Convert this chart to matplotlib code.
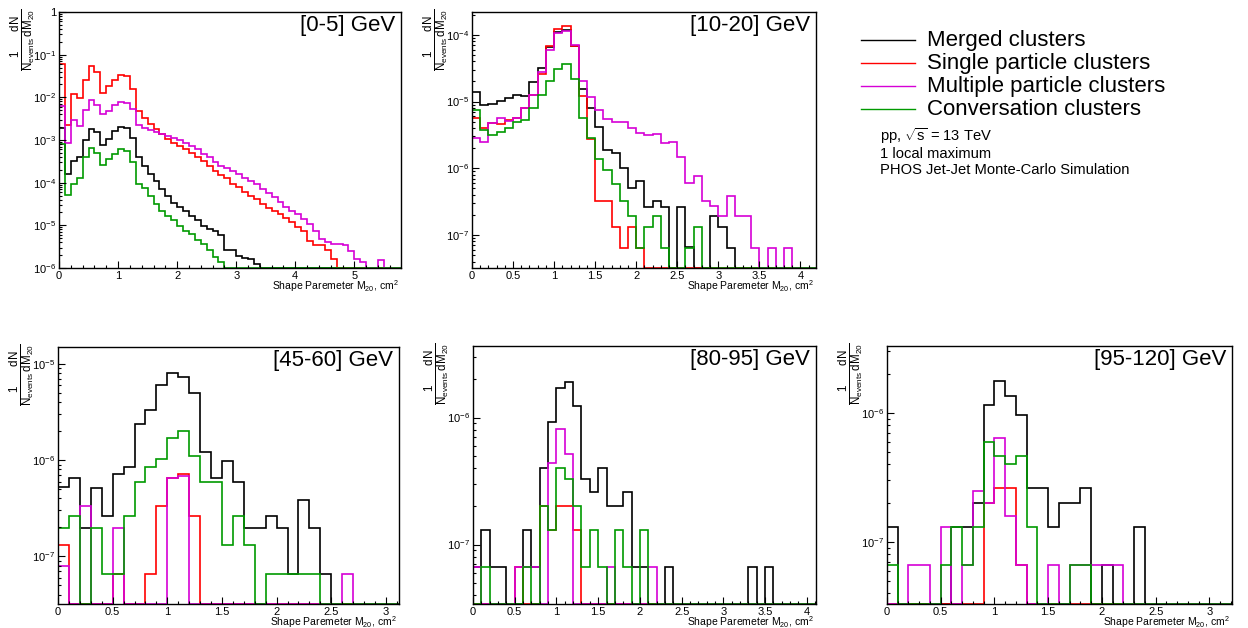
import numpy as np
import matplotlib
matplotlib.use("Agg")
import matplotlib.pyplot as plt
from matplotlib import ticker
from matplotlib.lines import Line2D
from matplotlib.transforms import offset_copy

plt.rcParams['font.family'] = ['Liberation Sans', 'DejaVu Sans']
plt.rcParams['mathtext.fontset'] = 'custom'
plt.rcParams['mathtext.rm'] = 'Liberation Sans'
plt.rcParams['mathtext.it'] = 'Liberation Sans:italic'
plt.rcParams['mathtext.bf'] = 'Liberation Sans:bold'
plt.rcParams['mathtext.sf'] = 'Liberation Sans'
plt.rcParams['mathtext.default'] = 'regular'

W, H = 1248, 628
BIN_WIDTH = 0.1  # cm^2

labels = ["Merged clusters", "Single particle clusters",
          "Multiple particle clusters", "Conversation clusters"]
colors = ["#000000", "#ff0000", "#d600d6", "#009a00"]

# [0-5] GeV
p1_merged = [1.9e-3, 1.6e-4, 3.2e-4, 3.9e-4, 9.8e-4, 1.8e-3, 1.5e-3, 7.6e-4, 1.04e-3, 1.6e-3,
             2.0e-3, 1.9e-3, 1.12e-3, 4.1e-4, 2.5e-4, 1.6e-4, 1.1e-4, 7.1e-5, 4.8e-5, 3.4e-5,
             2.7e-5, 2.2e-5, 1.7e-5, 1.33e-5, 9.8e-6, 8.1e-6, 7.5e-6, 5.9e-6, 2.6e-6, 2.6e-6,
             1.9e-6, 1.7e-6, 1.6e-6, 1.26e-6]
p1_single = [0.060, 2.3e-3, 1.17e-2, 9.4e-3, 2.6e-2, 5.5e-2, 3.9e-2, 1.28e-2, 1.8e-2, 2.6e-2,
             3.4e-2, 3.1e-2, 1.6e-2, 4.8e-3, 3.3e-3, 2.4e-3, 1.8e-3, 1.35e-3, 1.04e-3, 8.7e-4,
             7.3e-4, 6.3e-4, 5.0e-4, 4.1e-4, 3.2e-4, 2.5e-4, 1.9e-4, 1.5e-4, 1.26e-4, 9.3e-5,
             7.8e-5, 5.9e-5, 4.9e-5, 4.1e-5, 3.1e-5, 2.6e-5, 2.2e-5, 1.8e-5, 1.5e-5, 1.2e-5,
             9.3e-6, 7.3e-6, 4.4e-6, 3.4e-6, 3.5e-6, 2.6e-6, 1.6e-6]
p1_multiple = [6.2e-3, 8.5e-4, 3.0e-3, 2.1e-3, 5.0e-3, 8.5e-3, 6.5e-3, 4.0e-3, 4.9e-3, 6.5e-3,
               7.9e-3, 7.5e-3, 5.2e-3, 2.3e-3, 1.9e-3, 1.7e-3, 1.55e-3, 1.35e-3, 1.23e-3, 1.12e-3,
               9.8e-4, 8.7e-4, 7.3e-4, 6.0e-4, 4.8e-4, 3.9e-4, 3.0e-4, 2.5e-4, 2.2e-4, 1.9e-4,
               1.6e-4, 1.3e-4, 1.1e-4, 9.1e-5, 7.1e-5, 5.6e-5, 4.5e-5, 3.6e-5, 2.7e-5, 2.2e-5,
               1.8e-5, 1.4e-5, 1.07e-5, 7.5e-6, 4.8e-6, 4.1e-6, 3.6e-6, 3.7e-6, 3.4e-6, 2.5e-6,
               1.6e-6, 1.4e-6, 0, 0, 1.5e-6]
p1_conversion = [7.9e-4, 5.1e-5, 9.5e-5, 1.3e-4, 3.9e-4, 6.6e-4, 5.0e-4, 2.6e-4, 3.5e-4, 4.8e-4,
                 6.0e-4, 5.5e-4, 3.1e-4, 9.5e-5, 7.3e-5, 4.9e-5, 3.2e-5, 2.2e-5, 1.7e-5, 1.33e-5,
                 9.8e-6, 7.5e-6, 6.3e-6, 4.6e-6, 3.6e-6, 2.6e-6, 1.8e-6, 1.4e-6]

# [10-20] GeV
p2_merged = [1.4e-5, 8.9e-6, 9.2e-6, 1.03e-5, 1.12e-5, 1.26e-5, 1.2e-5, 1.94e-5, 3.2e-5, 6.6e-5,
             1.1e-4, 1.2e-4, 6.8e-5, 1.55e-5, 7.9e-6, 4.2e-6, 1.9e-6, 1.7e-6, 1.0e-6, 5.1e-7,
             6.4e-7, 2.6e-7, 3.2e-7, 2.6e-7, 0, 2.6e-7, 6.7e-8, 0, 0, 1.9e-7,
             1.3e-7, 6.4e-8]
p2_single = [5.6e-6, 4.0e-6, 4.8e-6, 4.6e-6, 5.3e-6, 5.6e-6, 7.9e-6, 1.26e-5, 2.6e-5, 6.8e-5,
             1.24e-4, 1.35e-4, 6.8e-5, 1.2e-5, 2.7e-6, 3.2e-7, 3.2e-7, 1.3e-7, 6.4e-8, 1.3e-7,
             6.4e-8]
p2_multiple = [2.8e-6, 2.5e-6, 4.8e-6, 5.6e-6, 5.1e-6, 5.7e-6, 8.1e-6, 1.26e-5, 2.8e-5, 5.9e-5,
               1.07e-4, 1.15e-4, 7.0e-5, 2.0e-5, 1.16e-5, 7.5e-6, 5.5e-6, 5.0e-6, 4.9e-6, 4.0e-6,
               3.4e-6, 3.2e-6, 3.3e-6, 2.4e-6, 2.5e-6, 1.5e-6, 6.0e-7, 7.6e-7, 3.2e-7, 2.7e-7,
               1.9e-7, 3.8e-7, 1.9e-7, 1.9e-7, 6.4e-8, 0, 6.4e-8, 0, 6.4e-8]
p2_conversion = [7.5e-6, 3.8e-6, 3.2e-6, 3.5e-6, 4.0e-6, 5.0e-6, 5.3e-6, 7.9e-6, 1.26e-5, 2.0e-5,
                 3.1e-5, 3.6e-5, 2.2e-5, 5.6e-6, 2.8e-6, 1.4e-6, 9.5e-7, 5.9e-7, 3.2e-7, 1.9e-7,
                 6.4e-8, 1.3e-7, 1.9e-7, 6.4e-8, 0, 0, 6.4e-8, 1.3e-7]

# [45-60] GeV
p3_merged = [5.2e-7, 6.6e-7, 1.95e-7, 5.1e-7, 2.6e-7, 7.1e-7, 8.5e-7, 2.4e-6, 3.3e-6, 6.0e-6,
             8.0e-6, 7.4e-6, 5.0e-6, 1.22e-6, 6.6e-7, 9.8e-7, 5.9e-7, 1.95e-7, 1.95e-7, 2.6e-7,
             1.95e-7, 6.6e-8, 3.9e-7, 1.95e-7, 6.6e-8]
p3_single = [1.3e-7, 0, 0, 0, 0, 6.6e-8, 0, 0, 6.6e-8, 3.3e-7,
             6.5e-7, 7.1e-7, 2.6e-7]
p3_multiple = [7.9e-8, 0, 3.3e-7, 0, 0, 1.95e-7, 0, 0, 0, 0,
               6.6e-7, 6.8e-7, 0, 0, 0, 0, 0, 0, 0, 0,
               0, 0, 0, 0, 0, 0, 6.6e-8]
p3_conversion = [1.95e-7, 2.6e-7, 0, 1.95e-7, 6.6e-8, 6.6e-8, 2.6e-7, 5.9e-7, 8.5e-7, 1.04e-6,
                 1.7e-6, 2.0e-6, 1.1e-6, 5.9e-7, 5.9e-7, 1.3e-7, 2.6e-7, 1.3e-7, 0, 6.6e-8,
                 6.6e-8, 6.6e-8, 6.6e-8, 6.6e-8]

# [80-95] GeV
p4_merged = [6.7e-8, 1.3e-7, 6.7e-8, 6.7e-8, 0, 0, 1.3e-7, 6.7e-8, 4.0e-7, 9.2e-7,
             1.7e-6, 1.9e-6, 1.23e-6, 3.3e-7, 2.6e-7, 4.0e-7, 2.0e-7, 2.0e-7, 2.6e-7, 6.7e-8,
             6.7e-8, 0, 0, 6.7e-8, 0, 0, 0, 0, 0, 0,
             0, 0, 0, 6.7e-8, 0, 6.7e-8]
p4_single = [0, 0, 0, 0, 0, 6.7e-8, 0, 0, 2.0e-7, 1.3e-7,
             2.0e-7, 2.0e-7, 1.3e-7]
p4_multiple = [6.7e-8, 0, 0, 0, 0, 6.7e-8, 6.7e-8, 6.7e-8, 0, 4.4e-7,
               8.1e-7, 5.2e-7, 0, 0, 0, 0, 6.7e-8, 0, 0, 0,
               0, 6.7e-8]
p4_conversion = [0, 6.7e-8, 0, 0, 0, 0, 6.7e-8, 0, 2.0e-7, 1.3e-7,
                 4.0e-7, 3.3e-7, 2.0e-7, 6.7e-8, 1.3e-7, 6.7e-8, 0, 1.3e-7, 6.7e-8, 0,
                 1.3e-7]

# [95-120] GeV
p5_merged = [1.3e-7, 0, 0, 0, 0, 0, 1.3e-7, 1.3e-7, 2.0e-7, 1.16e-6,
             1.76e-6, 1.36e-6, 9.7e-7, 2.6e-7, 2.6e-7, 1.3e-7, 2.0e-7, 2.0e-7, 2.6e-7, 0,
             6.6e-8, 0, 0, 1.3e-7]
p5_single = [0, 0, 0, 0, 0, 0, 0, 0, 0, 2.0e-7,
             2.6e-7, 2.6e-7, 6.6e-8]
p5_multiple = [0, 0, 6.6e-8, 6.6e-8, 0, 1.3e-7, 0, 6.6e-8, 2.5e-7, 2.0e-7,
               6.4e-7, 1.6e-7, 6.6e-8, 0, 0, 6.6e-8, 0, 6.6e-8, 6.6e-8, 6.6e-8,
               6.6e-8, 6.6e-8]
p5_conversion = [6.6e-8, 0, 0, 0, 0, 6.6e-8, 1.3e-7, 6.6e-8, 1.3e-7, 5.9e-7,
                 4.6e-7, 4.0e-7, 4.6e-7, 1.3e-7, 0, 0, 0, 6.6e-8, 6.6e-8]

titles = ["[0-5] GeV", "[10-20] GeV", "[45-60] GeV", "[80-95] GeV", "[95-120] GeV"]

# frame (left, top, right, bottom) in px, x range, y range, x ticks
panels = [
    dict(rect=(59, 12, 401, 268), data=[p1_merged, p1_single, p1_multiple, p1_conversion],
         xmax=5.79, ylim=(1e-6, 1.0), major=1.0, minor=0.2),
    dict(rect=(472, 12, 816, 268), data=[p2_merged, p2_single, p2_multiple, p2_conversion],
         xmax=4.19, ylim=(3.2e-8, 2.2e-4), major=0.5, minor=0.1),
    dict(rect=(58, 347, 399, 604), data=[p3_merged, p3_single, p3_multiple, p3_conversion],
         xmax=3.12, ylim=(3.2e-8, 1.5e-5), major=0.5, minor=0.1),
    dict(rect=(473, 346, 816, 604), data=[p4_merged, p4_single, p4_multiple, p4_conversion],
         xmax=4.11, ylim=(3.4e-8, 3.66e-6), major=0.5, minor=0.1),
    dict(rect=(887, 346, 1232, 604), data=[p5_merged, p5_single, p5_multiple, p5_conversion],
         xmax=3.21, ylim=(3.3e-8, 3.3e-6), major=0.5, minor=0.1),
]


def log_label(v, pos):
    if abs(v - 1.0) < 1e-12:
        return "1"
    return r"$10^{%d}$" % int(round(np.log10(v)))


fig = plt.figure(figsize=(W / 100, H / 100), dpi=100)
fig.patch.set_facecolor("white")

for title, p in zip(titles, panels):
    l, t, r, b = p["rect"]
    ax = fig.add_axes([l / W, 1 - b / H, (r - l) / W, (b - t) / H])
    ymin, ymax = p["ylim"]
    nbins = int(np.ceil(p["xmax"] / BIN_WIDTH - 1e-9))
    edges = np.arange(nbins + 1) * BIN_WIDTH
    for vals, color in zip(p["data"], colors):
        v = np.zeros(nbins)
        n = min(len(vals), nbins)
        v[:n] = vals[:n]
        v = np.where(v > 0, v, ymin)  # empty bins sit on the frame, ROOT style
        ax.stairs(v, edges, baseline=ymin, color=color, lw=1.2)
    ax.set_yscale("log")
    ax.set_xlim(0, p["xmax"])
    ax.set_ylim(ymin, ymax)

    ax.xaxis.set_major_locator(ticker.MultipleLocator(p["major"]))
    ax.xaxis.set_minor_locator(ticker.MultipleLocator(p["minor"]))
    ax.xaxis.set_major_formatter(ticker.FuncFormatter(lambda v, pos: "%g" % v))
    ax.yaxis.set_major_locator(ticker.LogLocator(base=10, numticks=20))
    ax.yaxis.set_minor_locator(ticker.LogLocator(base=10, subs=np.arange(2, 10) * 1.0, numticks=20))
    ax.yaxis.set_major_formatter(ticker.FuncFormatter(log_label))
    ax.yaxis.set_minor_formatter(ticker.NullFormatter())
    ax.tick_params(which="both", direction="in", top=False, right=False, labelsize=8, width=0.8)
    ax.tick_params(which="major", length=5)
    ax.tick_params(which="minor", length=2.5)
    ax.tick_params(axis="y", pad=2)
    ax.tick_params(axis="x", pad=2)
    for s in ax.spines.values():
        s.set_linewidth(1.0)

    ax.text(1, 1, title, transform=offset_copy(ax.transAxes, fig, x=-6, y=-3, units="dots"),
            ha="right", va="top", fontsize=16)
    ax.text(1, 0, r"Shape Paremeter M$_{20}$, cm$^{2}$",
            transform=offset_copy(ax.transAxes, fig, x=-2, y=-18, units="dots"),
            ha="right", va="center", fontsize=7.5)
    ax.text(0, 1, r"$\frac{1}{N_{events}}\frac{dN}{dM_{20}}$",
            transform=offset_copy(ax.transAxes, fig, x=-36, y=4, units="dots"),
            rotation=90, ha="center", va="top", fontsize=12)

# legend and caption, placed in the empty top-right slot
for i, (lab, col) in enumerate(zip(labels, colors)):
    y = 1 - (40 + 23 * i) / H
    fig.add_artist(Line2D([861 / W, 915 / W], [y, y], color=col, lw=1.0))
    fig.text(927 / W, y - 6 / H, lab, ha="left", va="baseline", fontsize=16)

caption = ["pp, $\\sqrt{s}$ = 13 TeV", "1 local maximum", "PHOS Jet-Jet Monte-Carlo Simulation"]
for i, line in enumerate(caption):
    fig.text(880 / W, 1 - (141 + 16.5 * i) / H, line, ha="left", va="baseline", fontsize=10.6)

fig.savefig("out.png", dpi=100, facecolor="white")
